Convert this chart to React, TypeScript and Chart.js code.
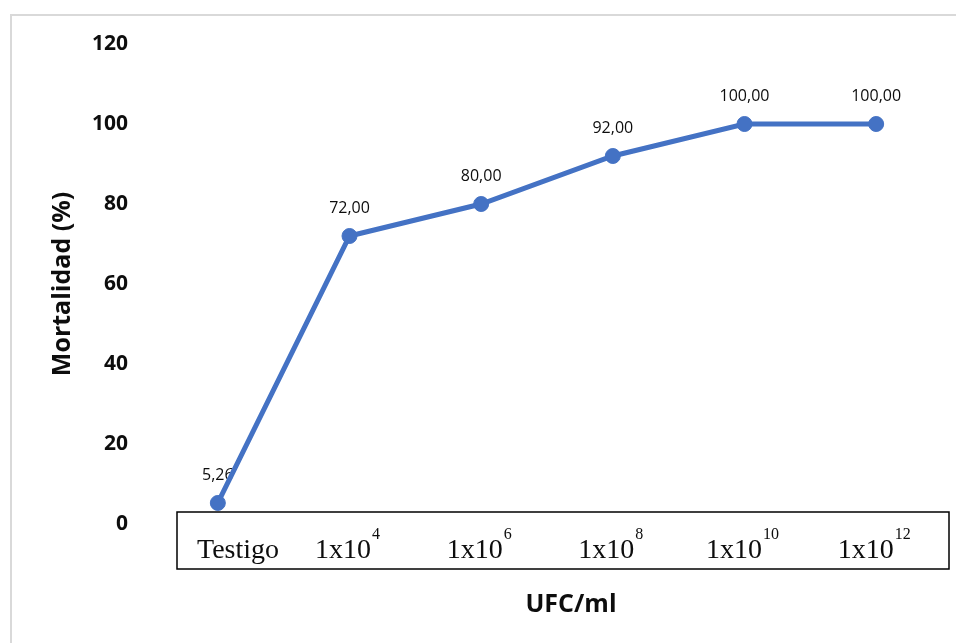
import React, { useEffect, useRef } from "react";
import { Chart, registerables } from "chart.js";

Chart.register(...registerables);

// Categories: base text plus a superscript exponent
const baseLabels = ["Testigo", "1x10", "1x10", "1x10", "1x10", "1x10"];
const exponents = ["", "4", "6", "8", "10", "12"];
// Mortality (%) per concentration
const mortality = [5.26, 72, 80, 92, 100, 100];
// Value axis
const yMin = 0;
const yMax = 120;
const yStep = 20;
const yTitle = "Mortalidad (%)";
const xTitle = "UFC/ml";

const LINE_BLUE = "#4472C4";
const TEXT = "#0d0d0d";
const SANS = "'Open Sans', 'Noto Sans', sans-serif";
const SERIF = "'Liberation Serif', 'DejaVu Serif', serif";

const formatValue = (v: number) => v.toFixed(2).replace(".", ",");

const decorations = {
  id: "decorations",
  beforeDraw(chart: any) {
    const { ctx, width, height } = chart;
    ctx.save();
    ctx.fillStyle = "#ffffff";
    ctx.fillRect(0, 0, width, height);
    // light frame around the chart
    ctx.strokeStyle = "#d9d9d9";
    ctx.lineWidth = 2;
    ctx.beginPath();
    ctx.moveTo(11, height);
    ctx.lineTo(11, 15);
    ctx.lineTo(width, 15);
    ctx.stroke();
    ctx.restore();
  },
  beforeDatasetsDraw(chart: any) {
    const { ctx } = chart;
    const meta = chart.getDatasetMeta(0);
    ctx.save();
    ctx.fillStyle = TEXT;
    ctx.font = `16px ${SANS}`;
    ctx.textAlign = "center";
    ctx.textBaseline = "middle";
    meta.data.forEach((pt: any, i: number) => {
      ctx.fillText(formatValue(mortality[i]), pt.x, pt.y - 28);
    });
    ctx.restore();
  },
  afterDraw(chart: any) {
    const { ctx, scales } = chart;
    const x = scales.x;

    // category label box
    const boxLeft = 177;
    const boxTop = 512;
    const boxRight = 949;
    const boxBottom = 569;
    ctx.save();
    ctx.fillStyle = "#ffffff";
    ctx.fillRect(boxLeft, boxTop, boxRight - boxLeft, boxBottom - boxTop);
    ctx.strokeStyle = "#000000";
    ctx.lineWidth = 1.5;
    ctx.strokeRect(boxLeft, boxTop, boxRight - boxLeft, boxBottom - boxTop);

    const baseFont = `28px ${SERIF}`;
    const supFont = `16px ${SERIF}`;
    const baseline = 558;
    ctx.fillStyle = TEXT;
    ctx.textBaseline = "alphabetic";
    ctx.textAlign = "left";
    baseLabels.forEach((label, i) => {
      ctx.font = baseFont;
      const wBase = ctx.measureText(label).width;
      ctx.font = supFont;
      const wSup = exponents[i] ? ctx.measureText(exponents[i]).width + 1 : 0;
      const total = wBase + wSup;
      const cx = Math.max(x.getPixelForValue(i) - 2, boxLeft + 20 + total / 2);
      const left = cx - total / 2;
      ctx.font = baseFont;
      ctx.fillText(label, left, baseline);
      if (exponents[i]) {
        ctx.font = supFont;
        ctx.fillText(exponents[i], left + wBase + 1, baseline - 19);
      }
    });

    // axis titles
    ctx.font = `bold 25px ${SANS}`;
    ctx.textAlign = "center";
    ctx.textBaseline = "middle";
    ctx.fillText(xTitle, 571, 605);
    ctx.translate(63, (chart.chartArea.top + chart.chartArea.bottom) / 2);
    ctx.rotate(-Math.PI / 2);
    ctx.fillText(yTitle, 0, 0);
    ctx.restore();
  },
};

export default function App() {
  const canvasRef = useRef<HTMLCanvasElement>(null);

  useEffect(() => {
    const canvas = canvasRef.current;
    if (!canvas) return;
    const chart = new Chart(canvas, {
      type: "line",
      data: {
        labels: baseLabels.map((b, i) => b + exponents[i]),
        datasets: [
          {
            data: mortality,
            borderColor: LINE_BLUE,
            backgroundColor: LINE_BLUE,
            borderWidth: 5,
            pointRadius: 7.5,
            pointBorderWidth: 1,
            pointBackgroundColor: LINE_BLUE,
            pointBorderColor: LINE_BLUE,
            tension: 0,
          },
        ],
      },
      options: {
        responsive: false,
        animation: false,
        devicePixelRatio: 1,
        layout: { padding: { top: 44, bottom: 119, left: 0, right: 14 } },
        plugins: {
          legend: { display: false },
          tooltip: { enabled: false },
        },
        scales: {
          x: {
            display: false,
            offset: true,
          },
          y: {
            min: yMin,
            max: yMax,
            afterFit: (s: any) => {
              s.width = 152;
            },
            ticks: {
              stepSize: yStep,
              padding: 24,
              color: TEXT,
              font: { family: SANS, size: 21, weight: "bold" },
            },
            grid: { display: false, drawTicks: false },
            border: { display: false },
          },
        },
      },
      plugins: [decorations],
    });
    return () => chart.destroy();
  }, []);

  return (
    <div
      style={{
        position: "fixed",
        left: 0,
        top: 0,
        width: 956,
        height: 643,
        background: "#ffffff",
      }}
    >
      <canvas ref={canvasRef} width={956} height={643} style={{ display: "block" }} />
    </div>
  );
}
